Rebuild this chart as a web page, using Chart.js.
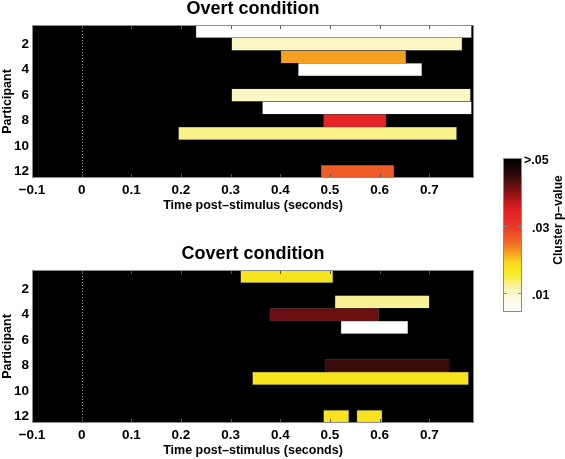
<!DOCTYPE html>
<html><head><meta charset="utf-8">
<script src="https://cdn.jsdelivr.net/npm/chart.js@4.4.0/dist/chart.umd.min.js"></script>
<style>
html,body{margin:0;padding:0;background:#fff;width:565px;height:459px;overflow:hidden;font-family:"Liberation Sans",Arial,sans-serif;}
.panel{position:absolute;left:0;width:506px;height:214px;}
#cb{position:absolute;left:503px;top:158px;width:19px;height:154px;box-sizing:border-box;border:1px solid #8a8a8a;}
.cbl{position:absolute;font-weight:bold;font-size:12.5px;color:#000;transform:translateY(-50%);line-height:1;white-space:nowrap;}
.cbt{position:absolute;width:3px;height:1px;background:#8a8a8a;}
#cbtitle{position:absolute;left:558px;top:220px;transform:translate(-50%,-50%) rotate(-90deg);font-weight:bold;font-size:12px;white-space:nowrap;color:#000;}
</style></head><body>
<div class="panel" style="top:0"><canvas id="c1" width="506" height="214"></canvas></div>
<div class="panel" style="top:245px"><canvas id="c2" width="506" height="214"></canvas></div>
<div id="cb"></div>
<div id="cbtitle">Cluster p–value</div>
<script>
// ---------- data ----------
const participants = ['1','2','3','4','5','6','7','8','9','10','11','12'];
const yTickLabels = ['2','4','6','8','10','12'];
const xTicks = [-0.1, 0, 0.1, 0.2, 0.3, 0.4, 0.5, 0.6, 0.7];
const xTickLabels = ['−0.1','0','0.1','0.2','0.3','0.4','0.5','0.6','0.7'];

// Overt condition: participant row, cluster start / end (s), cluster p-value
const overtRows  = [1, 2, 3, 4, 6, 7, 8, 9, 12];
const overtStart = [0.230, 0.302, 0.401, 0.436, 0.302, 0.364, 0.487, 0.195, 0.482];
const overtEnd   = [0.785, 0.766, 0.653, 0.685, 0.783, 0.785, 0.613, 0.755, 0.629];
const overtP     = [0.0045, 0.0100, 0.0218, 0.0045, 0.0100, 0.0045, 0.0336, 0.0125, 0.0263];

// Covert condition
const covertRows  = [1, 3, 4, 5, 8, 9, 12, 12];
const covertStart = [0.320, 0.510, 0.379, 0.522, 0.490, 0.344, 0.487, 0.554];
const covertEnd   = [0.506, 0.700, 0.598, 0.657, 0.740, 0.779, 0.538, 0.605];
const covertP     = [0.0172, 0.0122, 0.0418, 0.0045, 0.0445, 0.0172, 0.0172, 0.0172];

// Colour bar ticks
const cbTickValues = [0.05, 0.03, 0.01];
const cbTickLabels = ['>.05', '.03', '.01'];
const P_MAX = 0.05, P_MIN = 0.0045;

// ---------- colour map (t = 0 top/black ... 1 bottom/white) ----------
const cmapStops = [
  [0.00, [0, 0, 0]],
  [0.10, [42, 8, 8]],
  [0.18, [106, 16, 16]],
  [0.27, [184, 22, 28]],
  [0.34, [229, 31, 38]],
  [0.45, [234, 58, 40]],
  [0.55, [242, 106, 38]],
  [0.62, [245, 160, 32]],
  [0.68, [248, 216, 26]],
  [0.75, [247, 236, 32]],
  [0.84, [249, 242, 160]],
  [0.90, [253, 248, 216]],
  [1.00, [255, 255, 255]]
];
function pToT(p) { return Math.min(1, Math.max(0, (P_MAX - p) / (P_MAX - P_MIN))); }
function cmap(p) {
  const t = pToT(p);
  for (let i = 1; i < cmapStops.length; i++) {
    const [t1, c1] = cmapStops[i];
    if (t <= t1) {
      const [t0, c0] = cmapStops[i - 1];
      const f = (t - t0) / (t1 - t0);
      const c = c0.map((v, k) => Math.round(v + (c1[k] - v) * f));
      return `rgb(${c[0]},${c[1]},${c[2]})`;
    }
  }
  return 'rgb(255,255,255)';
}

// ---------- chart ----------
Chart.defaults.font.family = '"Liberation Sans", Arial, sans-serif';
Chart.defaults.color = '#000';

const frame = {
  id: 'frame',
  beforeDatasetsDraw(chart) {
    const { ctx, chartArea: a } = chart;
    ctx.save();
    ctx.fillStyle = '#000';
    ctx.fillRect(a.left, a.top, a.width, a.height);
    ctx.restore();
  },
  afterDatasetsDraw(chart) {
    const { ctx, chartArea: a, scales: { x } } = chart;
    ctx.save();
    const x0 = Math.round(x.getPixelForValue(0)) + 0.5;
    ctx.strokeStyle = '#a0a0a0';
    ctx.lineWidth = 1;
    ctx.setLineDash([1, 2]);
    ctx.beginPath(); ctx.moveTo(x0, a.top); ctx.lineTo(x0, a.bottom); ctx.stroke();
    ctx.setLineDash([]);
    ctx.strokeStyle = '#555';
    ctx.beginPath();
    x.ticks.forEach(t => {
      const px = Math.round(x.getPixelForValue(t.value)) + 0.5;
      ctx.moveTo(px, a.top); ctx.lineTo(px, a.top + 4);
      ctx.moveTo(px, a.bottom); ctx.lineTo(px, a.bottom - 4);
    });
    ctx.stroke();
    ctx.strokeStyle = '#8a8a8a';
    ctx.strokeRect(Math.round(a.left) + 0.5, Math.round(a.top) + 0.5, Math.round(a.width) - 1, Math.round(a.height) - 1);
    ctx.restore();
  }
};

function makeChart(id, title, rows, start, end, p) {
  return new Chart(document.getElementById(id), {
    type: 'bar',
    data: {
      labels: participants,
      datasets: [{
        data: rows.map((r, i) => ({ y: String(r), x: [start[i], end[i]] })),
        backgroundColor: p.map(cmap),
        borderColor: 'rgba(110,110,110,0.55)',
        borderWidth: 0.6,
        borderSkipped: false,
        categoryPercentage: 1,
        barPercentage: 1
      }]
    },
    options: {
      indexAxis: 'y',
      responsive: false,
      animation: false,
      devicePixelRatio: 1,
      layout: { padding: { left: 0, right: 32, top: 0, bottom: 0 } },
      plugins: {
        legend: { display: false },
        tooltip: { enabled: false },
        title: {
          display: true, fullSize: false, text: title, color: '#000',
          font: { size: 18, weight: 'bold', lineHeight: 1 },
          padding: { top: 0, bottom: 7 }
        }
      },
      scales: {
        x: {
          type: 'linear', min: -0.1, max: 0.79,
          afterBuildTicks(s) { s.ticks = xTicks.map(v => ({ value: v })); },
          afterFit(s) { s.height = 36; },
          grid: { display: false, drawTicks: false },
          border: { display: false },
          ticks: {
            color: '#000', font: { size: 13.5, weight: 'bold' }, padding: 4,
            maxRotation: 0, autoSkip: false,
            callback: (v, i) => xTickLabels[i]
          },
          title: {
            display: true, text: 'Time post–stimulus (seconds)', color: '#000',
            font: { size: 12.5, weight: 'bold', lineHeight: 1.2 },
            padding: { top: 0, bottom: 0.5 }
          }
        },
        y: {
          type: 'category',
          afterFit(s) { s.width = 32; },
          grid: { display: false, drawTicks: false },
          border: { display: false },
          ticks: {
            color: '#000', font: { size: 13.5, weight: 'bold' }, padding: 3, autoSkip: false,
            callback(v) { const l = this.getLabelForValue(v); return yTickLabels.includes(l) ? l : ''; }
          },
          title: {
            display: true, text: 'Participant', color: '#000',
            font: { size: 12.5, weight: 'bold', lineHeight: 1.2 },
            padding: 0
          }
        }
      }
    },
    plugins: [frame]
  });
}

makeChart('c1', 'Overt condition', overtRows, overtStart, overtEnd, overtP);
makeChart('c2', 'Covert condition', covertRows, covertStart, covertEnd, covertP);

// ---------- colour bar ----------
const cb = document.getElementById('cb');
cb.style.background = 'linear-gradient(to bottom,' +
  cmapStops.map(([t, c]) => `rgb(${c[0]},${c[1]},${c[2]}) ${(t * 100).toFixed(1)}%`).join(',') + ')';
const CB_TOP = 158, CB_H = 154, CB_LEFT = 503, CB_W = 19;
cbTickValues.forEach((v, i) => {
  const y = CB_TOP + pToT(v) * CB_H;
  const lab = document.createElement('div');
  lab.className = 'cbl';
  lab.textContent = cbTickLabels[i];
  lab.style.left = (i === 0 ? CB_LEFT + CB_W + 2 : CB_LEFT + CB_W + 10) + 'px';
  lab.style.top = (y + 2) + 'px';
  document.body.appendChild(lab);
  if (i > 0) {
    [CB_LEFT + 1, CB_LEFT + CB_W - 4].forEach(xx => {
      const t = document.createElement('div');
      t.className = 'cbt';
      t.style.left = xx + 'px';
      t.style.top = Math.round(y) + 'px';
      document.body.appendChild(t);
    });
  }
});
</script>
</body></html>
